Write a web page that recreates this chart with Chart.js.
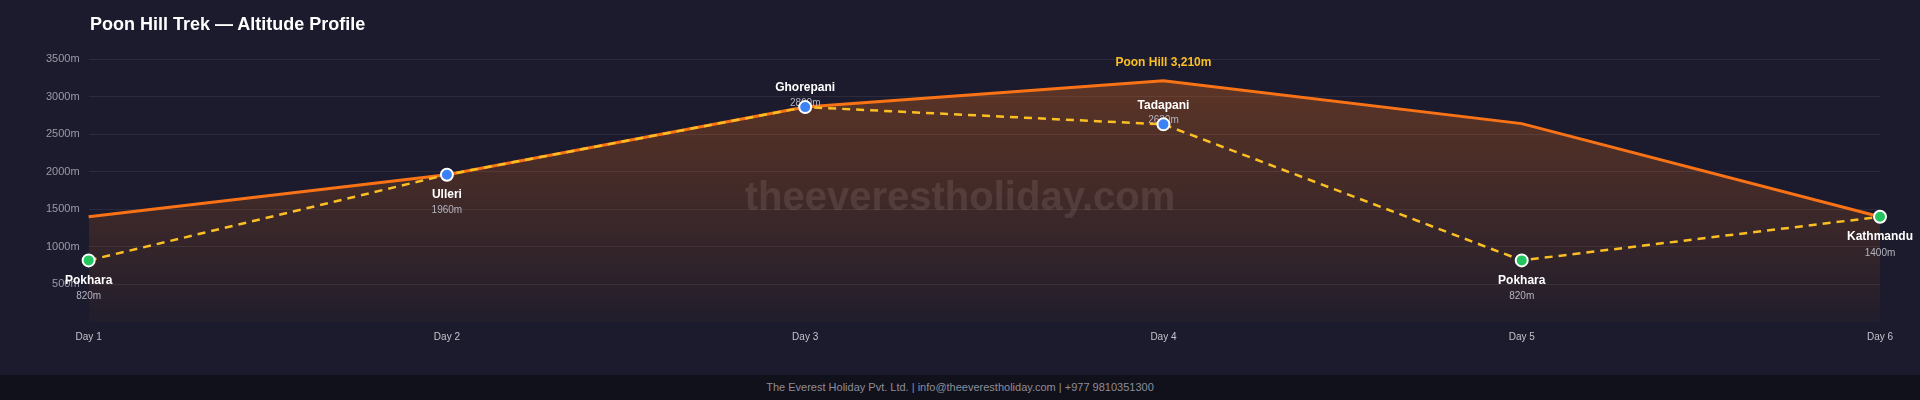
<!DOCTYPE html>
<html>
<head>
<meta charset="utf-8">
<script src="https://cdn.jsdelivr.net/npm/chart.js@4.4.1/dist/chart.umd.min.js"></script>
<style>
  html, body { margin: 0; padding: 0; background: #1b1b2d; }
  body { width: 1920px; height: 400px; overflow: hidden; font-family: "Liberation Sans", Arial, sans-serif; }
  .wrap { position: relative; width: 1920px; height: 375px; }
  .title { position: absolute; left: 90px; top: 14px; color: #fff; font-weight: bold; font-size: 18px; }
  .footer { height: 25px; line-height: 25px; background: #11111c; color: #8d8d99; font-size: 11px; text-align: center; }
</style>
</head>
<body>
<div class="wrap">
  <div class="title">Poon Hill Trek — Altitude Profile</div>
  <canvas id="altitude-chart" width="1920" height="375"></canvas>
</div>
<div class="footer">The Everest Holiday Pvt. Ltd. | info@theeverestholiday.com | +977 9810351300</div>

<script>
const days = ["Day 1", "Day 2", "Day 3", "Day 4", "Day 5", "Day 6"];
const places = ["Pokhara", "Ulleri", "Ghorepani", "Tadapani", "Pokhara", "Kathmandu"];
const sleepAltitudes = [820, 1960, 2860, 2630, 820, 1400];
const maxAltitudes = [1400, 1960, 2860, 3210, 2640, 1400];
const yTicks = [500, 1000, 1500, 2000, 2500, 3000, 3500];
const peakLabel = "Poon Hill 3,210m";

const green = "#22c55e";
const blue = "#3b82f6";
const pointColors = places.map(p => (p === "Pokhara" || p === "Kathmandu") ? green : blue);

// watermark, stop names and the peak label
const stopLabels = {
  id: "stopLabels",
  beforeDatasetsDraw(chart) {
    const ctx = chart.ctx;
    ctx.save();
    ctx.font = "bold 40px 'Liberation Sans', Arial, sans-serif";
    ctx.fillStyle = "rgba(255,255,255,0.1)";
    ctx.textAlign = "center";
    ctx.textBaseline = "middle";
    ctx.fillText("theeverestholiday.com", chart.width / 2, 199);
    ctx.restore();
  },
  afterDatasetDraw(chart, args) {
    if (args.index !== 0) return;
    const ctx = chart.ctx;
    const pts = chart.getDatasetMeta(1).data;
    ctx.save();
    ctx.textAlign = "center";
    ctx.textBaseline = "middle";
    pts.forEach((p, i) => {
      const above = sleepAltitudes[i] > 2500;
      const nameY = above ? p.y - 19 : p.y + 20;
      const altY = above ? p.y - 4 : p.y + 36;
      ctx.font = "bold 12px 'Liberation Sans', Arial, sans-serif";
      ctx.fillStyle = "#ffffff";
      ctx.fillText(places[i], p.x, nameY);
      ctx.font = "10px 'Liberation Sans', Arial, sans-serif";
      ctx.fillStyle = "#b4b4c0";
      ctx.fillText(sleepAltitudes[i] + "m", p.x, altY);
    });
    const top = chart.getDatasetMeta(0).data[3];
    ctx.font = "bold 12px 'Liberation Sans', Arial, sans-serif";
    ctx.fillStyle = "#fbbf24";
    ctx.fillText(peakLabel, top.x, top.y - 18);
    ctx.restore();
  }
};

const ctx = document.getElementById("altitude-chart");
new Chart(ctx, {
  type: "line",
  data: {
    labels: days,
    datasets: [
      {
        label: "Max altitude",
        order: 2,
        data: maxAltitudes,
        borderColor: "#f97316",
        borderWidth: 3,
        pointRadius: 0,
        tension: 0,
        fill: "origin",
        backgroundColor: (c) => {
          const area = c.chart.chartArea;
          if (!area) return "rgba(249,115,22,0.2)";
          const g = c.chart.ctx.createLinearGradient(0, area.top, 0, area.bottom);
          g.addColorStop(0, "rgba(249,115,22,0.32)");
          g.addColorStop(1, "rgba(249,115,22,0.03)");
          return g;
        }
      },
      {
        label: "Overnight",
        order: 1,
        data: sleepAltitudes,
        borderColor: "#fbbf24",
        borderWidth: 2.5,
        borderDash: [8, 6],
        tension: 0,
        fill: false,
        pointRadius: 6,
        pointHoverRadius: 6,
        pointBorderWidth: 2,
        pointBorderColor: "#ffffff",
        pointBackgroundColor: pointColors,
        pointHoverBackgroundColor: pointColors
      }
    ]
  },
  options: {
    responsive: false,
    animation: false,
    events: [],
    layout: { padding: { top: 59, right: 40, left: 37, bottom: 23 } },
    plugins: {
      legend: { display: false },
      tooltip: { enabled: false }
    },
    scales: {
      x: {
        offset: false,
        grid: { display: false, drawTicks: false },
        border: { display: false },
        ticks: { color: "#c4c4cc", font: { size: 10, family: "'Liberation Sans', Arial, sans-serif" }, padding: 9 }
      },
      y: {
        min: 0,
        max: 3500,
        afterBuildTicks: (axis) => { axis.ticks = [0].concat(yTicks).map(v => ({ value: v })); },
        grid: {
          drawTicks: false,
          color: (c) => c.tick && c.tick.value === 0 ? "rgba(0,0,0,0)" : "rgba(255,255,255,0.07)"
        },
        border: { display: false },
        ticks: {
          color: "#9a9aa8",
          padding: 9,
          font: { size: 11, family: "'Liberation Sans', Arial, sans-serif" },
          callback: (v) => v === 0 ? "" : v + "m"
        }
      }
    }
  },
  plugins: [stopLabels]
});
</script>
</body>
</html>
